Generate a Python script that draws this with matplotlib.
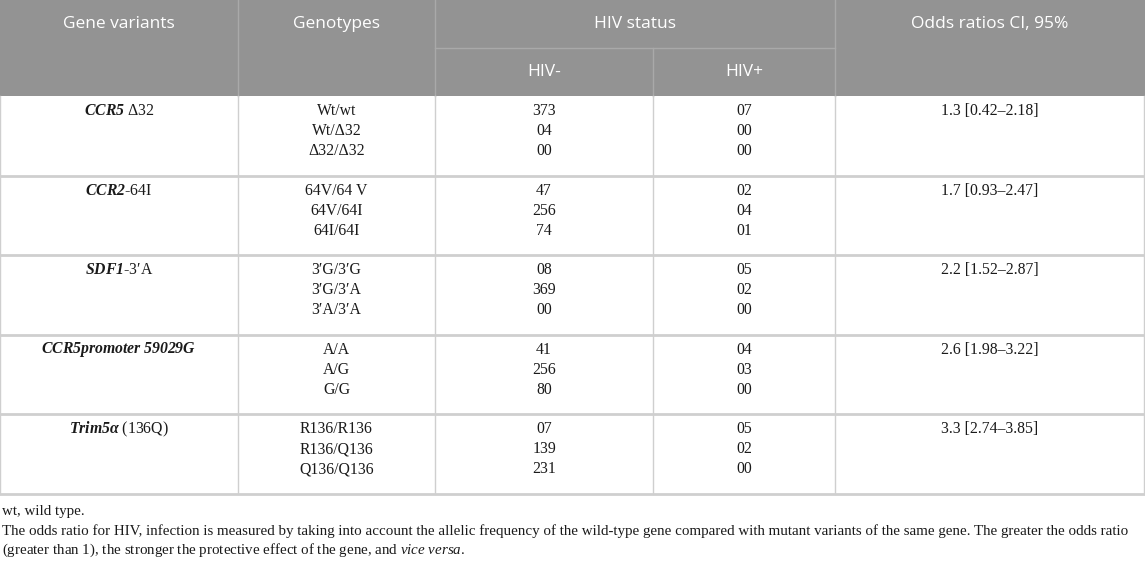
"""
Table of gene variants vs HIV status, drawn with plain matplotlib.
"""

import matplotlib
matplotlib.use("Agg")
import matplotlib.pyplot as plt
from matplotlib.patches import Rectangle

plt.rcParams["mathtext.fontset"] = "custom"
plt.rcParams["mathtext.rm"] = "Liberation Serif"
plt.rcParams["mathtext.it"] = "Liberation Serif:italic"
plt.rcParams["mathtext.bf"] = "Liberation Serif:bold:italic"

# table content
headers = ["Gene variants", "Genotypes", "HIV status", "Odds ratios CI, 95%"]
sub_headers = ["HIV-", "HIV+"]
genes = [
    r"$\mathbf{CCR5}$ Δ32",
    r"$\mathbf{CCR2}$-64I",
    r"$\mathbf{SDF1}$-3′A",
    r"$\mathbf{CCR5promoter\ 59029G}$",
    r"$\mathbf{Trim5α}$ (136Q)",
]
genotypes = [
    ["Wt/wt", "Wt/Δ32", "Δ32/Δ32"],
    ["64V/64 V", "64V/64I", "64I/64I"],
    ["3′G/3′G", "3′G/3′A", "3′A/3′A"],
    ["A/A", "A/G", "G/G"],
    ["R136/R136", "R136/Q136", "Q136/Q136"],
]
hiv_neg = [
    ["373", "04", "00"],
    ["47", "256", "74"],
    ["08", "369", "00"],
    ["41", "256", "80"],
    ["07", "139", "231"],
]
hiv_pos = [
    ["07", "00", "00"],
    ["02", "04", "01"],
    ["05", "02", "00"],
    ["04", "03", "00"],
    ["05", "02", "00"],
]
odds = [
    "1.3 [0.42–2.18]",
    "1.7 [0.93–2.47]",
    "2.2 [1.52–2.87]",
    "2.6 [1.98–3.22]",
    "3.3 [2.74–3.85]",
]
footnotes = [
    "wt, wild type.",
    "The odds ratio for HIV, infection is measured by taking into account the allelic frequency of the wild-type gene compared with mutant variants of the same gene. The greater the odds ratio",
    r"(greater than 1), the stronger the protective effect of the gene, and $\mathit{vice\ versa}$.",
]

W, H = 1145, 561
fig = plt.figure(figsize=(W / 100, H / 100), dpi=100)
ax = fig.add_axes([0, 0, 1, 1])
ax.set_xlim(0, W)
ax.set_ylim(H, 0)
ax.axis("off")

col_x = [0, 238, 435, 653, 835, 1144]
head_h = 96
sub_y = 48
grp_h = 79.6
line_gap = 20

head_col = "#939393"
head_line = "#a9a9a9"
grid_col = "#cfcfcf"

# header band
ax.add_patch(Rectangle((0, 0), W, head_h, color=head_col, lw=0))
for x in [col_x[1], col_x[2], col_x[4]]:
    ax.plot([x, x], [0, head_h], color=head_line, lw=1)
ax.plot([col_x[2], col_x[4]], [sub_y, sub_y], color=head_line, lw=1)
ax.plot([col_x[3], col_x[3]], [sub_y, head_h], color=head_line, lw=1)

hfont = dict(family="Open Sans", size=12.5, color="white", ha="center", va="center")
ax.text((col_x[0] + col_x[1]) / 2, 24, headers[0], **hfont)
ax.text((col_x[1] + col_x[2]) / 2, 24, headers[1], **hfont)
ax.text((col_x[2] + col_x[4]) / 2, 24, headers[2], **hfont)
ax.text((col_x[4] + col_x[5]) / 2, 24, headers[3], **hfont)
ax.text((col_x[2] + col_x[3]) / 2, 72, sub_headers[0], **hfont)
ax.text((col_x[3] + col_x[4]) / 2, 72, sub_headers[1], **hfont)

# body
bfont = dict(family="Liberation Serif", size=11.3, color="#1a1a1a", ha="center", va="center")
body_bottom = head_h + grp_h * len(genes)
for x in col_x:
    ax.plot([x, x], [head_h, body_bottom], color=grid_col, lw=1)

for i, gene in enumerate(genes):
    top = head_h + grp_h * i
    y0 = top + 15
    ax.text((col_x[0] + col_x[1]) / 2, y0, gene, **bfont)
    ax.text((col_x[4] + col_x[5]) / 2, y0, odds[i], **bfont)
    for j in range(3):
        y = y0 + j * line_gap
        ax.text((col_x[1] + col_x[2]) / 2, y, genotypes[i][j], **bfont)
        ax.text((col_x[2] + col_x[3]) / 2, y, hiv_neg[i][j], **bfont)
        ax.text((col_x[3] + col_x[4]) / 2, y, hiv_pos[i][j], **bfont)
    ax.plot([0, W], [top + grp_h, top + grp_h], color=grid_col, lw=2)

# footnotes
ffont = dict(family="Liberation Serif", size=10.8, color="#1a1a1a", ha="left", va="center")
for k, note in enumerate(footnotes):
    ax.text(2, 512 + k * 19, note, **ffont)

fig.savefig("out.png", dpi=100)
